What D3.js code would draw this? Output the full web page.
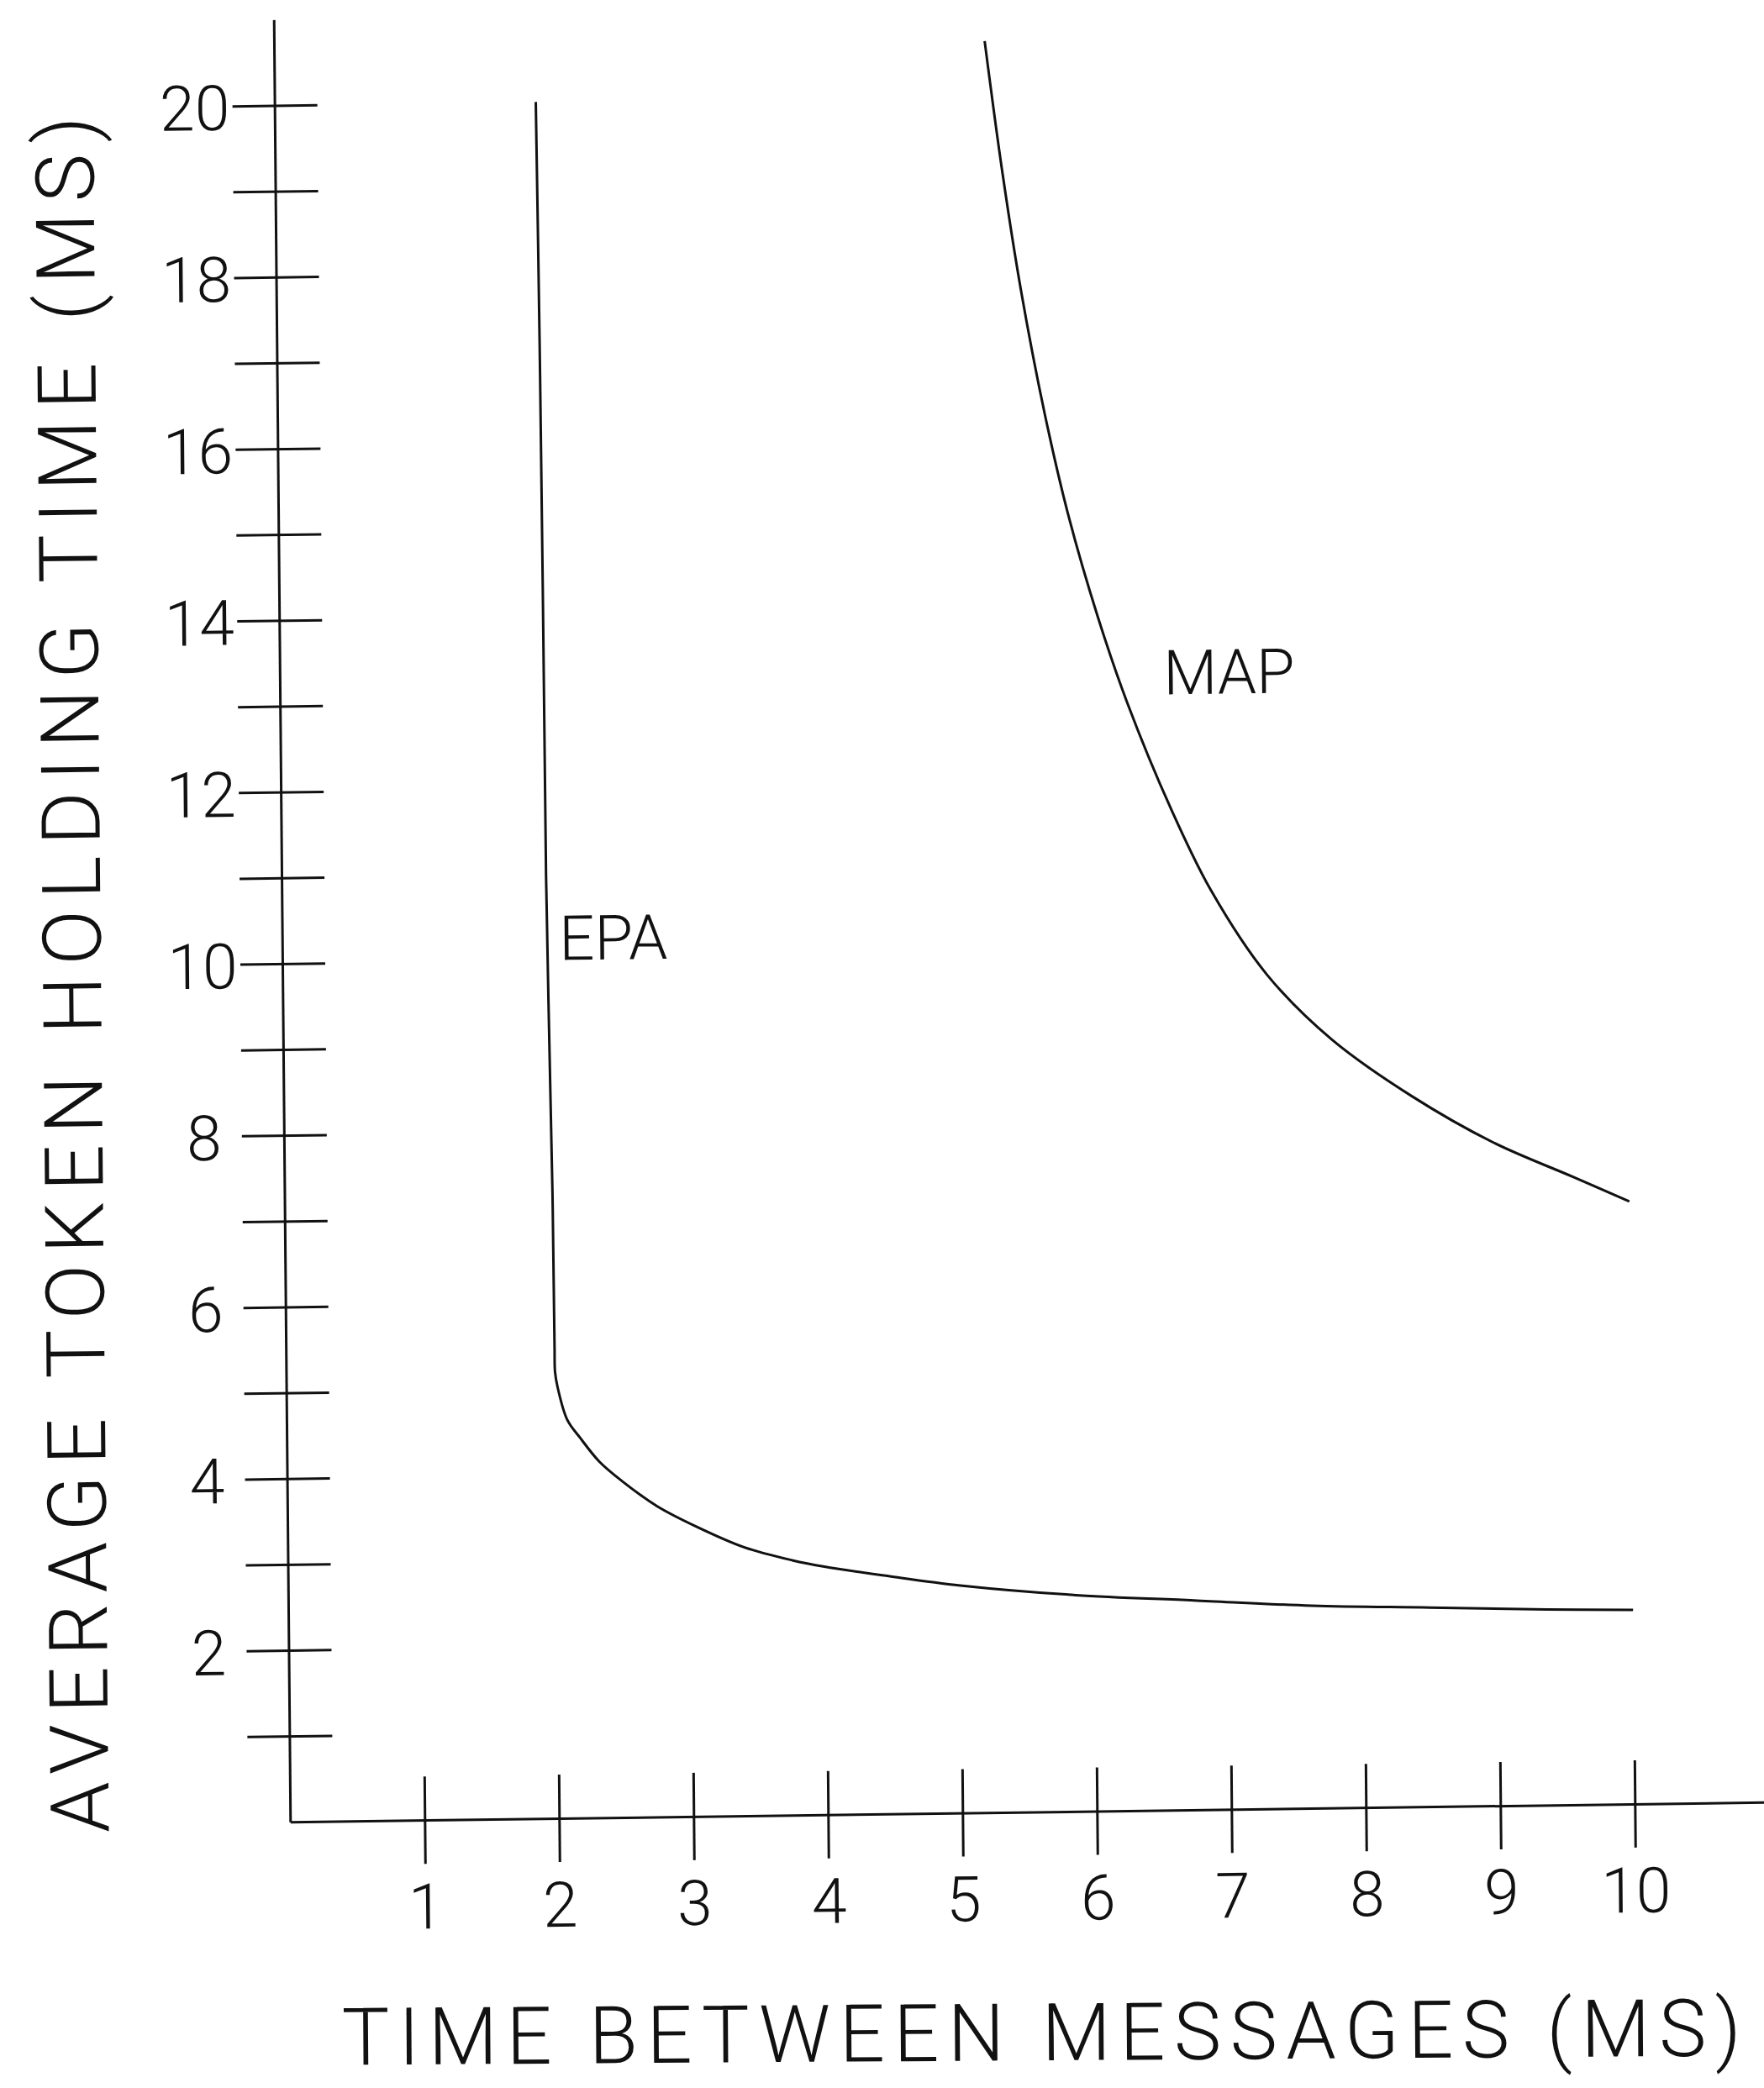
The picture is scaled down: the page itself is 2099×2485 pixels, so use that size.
<!DOCTYPE html>
<html>
<head>
<meta charset="utf-8">
<script src="https://cdn.jsdelivr.net/npm/d3@7"></script>
<style>
  html, body { margin: 0; padding: 0; background: #fff; }
  svg { display: block; }
</style>
</head>
<body>
<div id="chart"></div>
<script>
// Values
const xTicks = [1, 2, 3, 4, 5, 6, 7, 8, 9, 10];
const yTicks = [1, 2, 3, 4, 5, 6, 7, 8, 9, 10, 11, 12, 13, 14, 15, 16, 17, 18, 19, 20];
const yLabelled = [2, 4, 6, 8, 10, 12, 14, 16, 18, 20];

// EPA curve: near-vertical at x ~ 2, then flattens out towards ~2.3
const epaX = [1.943, 1.955, 1.962, 1.967, 1.993, 1.998, 2.0, 2.017, 2.088, 2.182, 2.323, 2.49,
  2.751, 3.037, 3.393, 3.751, 3.99, 4.467, 5.0, 5.857, 6.734, 7.611, 8.488, 9.36, 10.0];
const epaY = [20.0, 17.25, 14.35, 10.96, 7.3, 5.5, 5.2, 5.03, 4.64, 4.43, 4.15, 3.92,
  3.62, 3.38, 3.13, 2.97, 2.89, 2.77, 2.65, 2.52, 2.44, 2.36, 2.32, 2.28, 2.26];

// MAP curve
const mapX = [5.285, 5.405, 5.536, 5.706, 5.877, 6.088, 6.30, 6.62, 6.91, 7.32, 7.80, 8.39, 8.99, 9.59, 10.0];
const mapY = [20.64, 19.14, 17.75, 16.29, 15.09, 13.91, 12.91, 11.66, 10.71, 9.72, 8.95, 8.28, 7.73, 7.31, 7.02];

const width = 2099;
const height = 2485;
const font = "Roboto, 'Liberation Sans', sans-serif";
const ink = '#111';

const svg = d3.select('#chart')
  .append('svg')
  .attr('width', width)
  .attr('height', height)
  .style('background', '#fff');

// the scan is slightly skewed, so the whole plot sits in a skewed frame
const g = svg.append('g')
  .attr('transform', 'translate(345.3,2168.3) skewY(-0.766) skewX(0.523)');

const x = d3.scaleLinear().domain([0, 11]).range([0, 1760]);
const y = d3.scaleLinear().domain([0, 21]).range([0, -2145.2]);

// x axis, ticks crossing the line
const xAxis = d3.axisBottom(x)
  .tickValues(xTicks)
  .tickSize(52)
  .tickSizeOuter(0)
  .tickFormat(d3.format('d'));

const gx = g.append('g').call(xAxis);
gx.select('.domain').attr('stroke', ink).attr('stroke-width', 3);
gx.selectAll('.tick line')
  .attr('y1', -52)
  .attr('stroke', ink)
  .attr('stroke-width', 3);
gx.selectAll('.tick text')
  .attr('y', 129)
  .attr('dy', 0)
  .attr('fill', ink)
  .style('font-family', font)
  .style('font-weight', 300)
  .style('font-size', '75px');

// y axis, every unit ticked, even ones labelled
const yAxis = d3.axisLeft(y)
  .tickValues(yTicks)
  .tickSize(50)
  .tickSizeOuter(0)
  .tickFormat(d => (yLabelled.includes(d) ? d : ''));

const gy = g.append('g').call(yAxis);
gy.select('.domain').attr('stroke', ink).attr('stroke-width', 3);
gy.selectAll('.tick line')
  .attr('x1', 51)
  .attr('stroke', ink)
  .attr('stroke-width', 3);
gy.selectAll('.tick text')
  .attr('x', -95)
  .attr('dy', 28)
  .attr('text-anchor', 'middle')
  .attr('fill', ink)
  .style('font-family', font)
  .style('font-weight', 300)
  .style('font-size', '75px');

// curves
const line = d3.line()
  .x(d => x(d[0]))
  .y(d => y(d[1]))
  .curve(d3.curveCatmullRom.alpha(0.5));

g.append('path')
  .datum(d3.zip(epaX, epaY))
  .attr('fill', 'none')
  .attr('stroke', ink)
  .attr('stroke-width', 3)
  .attr('d', line);

g.append('path')
  .datum(d3.zip(mapX, mapY))
  .attr('fill', 'none')
  .attr('stroke', ink)
  .attr('stroke-width', 3)
  .attr('d', line);

// curve labels
const labels = [
  { name: 'EPA', at: [2.06, 10.0] },
  { name: 'MAP', at: [6.57, 13.0] },
];
g.selectAll('.curve-label')
  .data(labels)
  .enter().append('text')
  .attr('class', 'curve-label')
  .attr('x', d => x(d.at[0]))
  .attr('y', d => y(d.at[1]))
  .attr('fill', ink)
  .style('font-family', font)
  .style('font-weight', 300)
  .style('font-size', '74px')
  .text(d => d.name);

// axis titles
svg.append('text')
  .attr('transform', 'translate(1239.5,2452) rotate(-0.38)')
  .attr('text-anchor', 'middle')
  .attr('textLength', 1665)
  .attr('lengthAdjust', 'spacing')
  .attr('fill', ink)
  .style('font-family', font)
  .style('font-weight', 300)
  .style('font-size', '95px')
  .text('TIME BETWEEN MESSAGES (MS)');

g.append('text')
  .attr('transform', `translate(-216,${(y(0) + 9.8 + y(0) - 2033.4) / 2}) rotate(-90)`)
  .attr('text-anchor', 'middle')
  .attr('textLength', 2043)
  .attr('lengthAdjust', 'spacing')
  .attr('fill', ink)
  .style('font-family', font)
  .style('font-weight', 300)
  .style('font-size', '97px')
  .text('AVERAGE TOKEN HOLDING TIME (MS)');
</script>
</body>
</html>
